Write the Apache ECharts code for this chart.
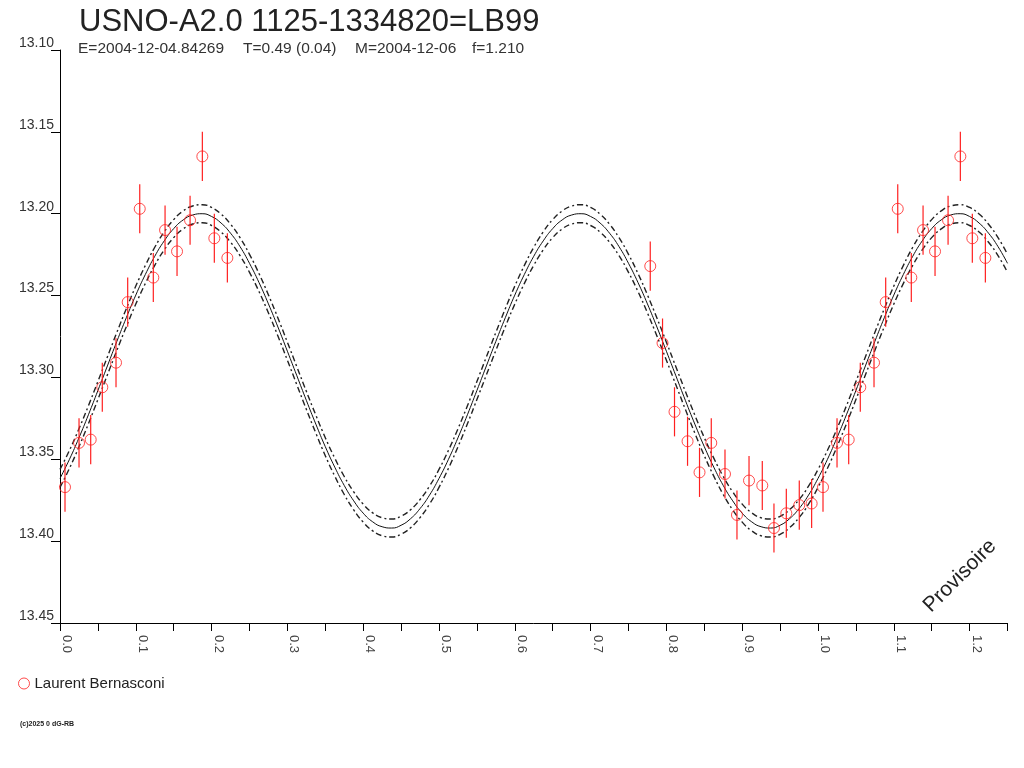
<!DOCTYPE html>
<html>
<head>
<meta charset="utf-8">
<script src="https://cdn.jsdelivr.net/npm/echarts@6/dist/echarts.min.js"></script>
<style>
  html, body { margin: 0; background: #fff; }
  #chart { width: 1024px; height: 768px; }
</style>
</head>
<body>
<div id="chart"></div>
<script>
var obsPhase = [0.0066, 0.0251, 0.0405, 0.0558, 0.0739, 0.0893, 0.1052, 0.1231, 0.1386, 0.1544,
  0.1716, 0.1878, 0.2036, 0.2208, 0.7787, 0.7949, 0.8107, 0.8279, 0.8437, 0.8592,
  0.8773, 0.8931, 0.9090, 0.9265, 0.9419, 0.9582, 0.9753, 0.9916];
var obsMag = [13.367, 13.340, 13.338, 13.306, 13.291, 13.254, 13.197, 13.239, 13.210, 13.223,
  13.204, 13.165, 13.215, 13.227, 13.232, 13.279, 13.321, 13.339, 13.358, 13.340,
  13.359, 13.384, 13.363, 13.366, 13.392, 13.383, 13.378, 13.377];
var obsErr = [0.015, 0.015, 0.015, 0.015, 0.015, 0.015, 0.015, 0.015, 0.015, 0.015,
  0.015, 0.015, 0.015, 0.015, 0.015, 0.015, 0.015, 0.015, 0.015, 0.015,
  0.015, 0.015, 0.015, 0.015, 0.015, 0.015, 0.015, 0.015];

// fitted curve over one cycle (0.5 in phase), sampled every 0.0125
var fitStep = 0.0125;
var fitMid = [13.3617, 13.3500, 13.3369, 13.3228, 13.3080, 13.2930, 13.2780, 13.2635, 13.2497, 13.2372,
  13.2260, 13.2166, 13.2091, 13.2038, 13.2008, 13.2000, 13.2017, 13.2057, 13.2119, 13.2201,
  13.2303, 13.2420, 13.2551, 13.2692, 13.2840, 13.2990, 13.3140, 13.3285, 13.3423, 13.3548,
  13.3660, 13.3754, 13.3829, 13.3882, 13.3912, 13.3920, 13.3903, 13.3863, 13.3801, 13.3719];
var fitHigh = [13.3562, 13.3445, 13.3314, 13.3173, 13.3025, 13.2875, 13.2725, 13.2580, 13.2442, 13.2317,
  13.2205, 13.2111, 13.2036, 13.1983, 13.1953, 13.1945, 13.1962, 13.2002, 13.2064, 13.2146,
  13.2248, 13.2365, 13.2496, 13.2637, 13.2785, 13.2935, 13.3085, 13.3230, 13.3368, 13.3493,
  13.3605, 13.3699, 13.3774, 13.3827, 13.3857, 13.3865, 13.3848, 13.3808, 13.3746, 13.3664];
var fitLow = [13.3672, 13.3555, 13.3424, 13.3283, 13.3135, 13.2985, 13.2835, 13.2690, 13.2552, 13.2427,
  13.2315, 13.2221, 13.2146, 13.2093, 13.2063, 13.2055, 13.2072, 13.2112, 13.2174, 13.2256,
  13.2358, 13.2475, 13.2606, 13.2747, 13.2895, 13.3045, 13.3195, 13.3340, 13.3478, 13.3603,
  13.3715, 13.3809, 13.3884, 13.3937, 13.3967, 13.3975, 13.3958, 13.3918, 13.3856, 13.3774];

var phaseMax = 1.25;
var observer = "Laurent Bernasconi";
var red = "#ff2020";
var font = "'Liberation Sans', Arial, sans-serif";

// points are repeated one cycle later while they stay inside the axis
var pts = [];
for (var i = 0; i < obsPhase.length; i++) {
  [0, 1].forEach(function (k) {
    var p = obsPhase[i] + k;
    if (p <= phaseMax) pts.push([p, obsMag[i], obsErr[i]]);
  });
}

// repeat the cycle samples across the whole phase axis
function curve(arr) {
  var out = [];
  for (var j = 0; j * fitStep <= phaseMax + 1e-9; j++) {
    out.push([+(j * fitStep).toFixed(4), arr[j % arr.length]]);
  }
  return out;
}

var chart = echarts.init(document.getElementById("chart"));

var subStyle = function (txt, x) {
  return {
    type: "text", x: x, y: 41,
    style: { text: txt, font: "15.5px " + font, fill: "#333" }
  };
};

var option = {
  backgroundColor: "#fff",
  animation: false,
  title: {
    text: "USNO-A2.0 1125-1334820=LB99",
    left: 74, top: 2,
    textStyle: { fontFamily: font, fontSize: 31, fontWeight: "normal", color: "#222" }
  },
  legend: {
    data: [observer],
    left: 18, top: 676, padding: 0,
    itemWidth: 11, itemHeight: 11, itemGap: 4,
    itemStyle: { color: "rgba(255,255,255,0)", borderColor: red, borderWidth: 1 },
    textStyle: { fontFamily: font, fontSize: 15, color: "#222" }
  },
  grid: { left: 60, right: 16.5, top: 50, bottom: 145, containLabel: false },
  xAxis: {
    type: "value",
    min: 0, max: phaseMax, interval: 0.05,
    splitLine: { show: false },
    axisLine: { lineStyle: { color: "#000", width: 1 } },
    axisTick: { length: 8, lineStyle: { color: "#000" } },
    axisLabel: {
      rotate: -90,
      margin: 12,
      verticalAlign: "bottom",
      fontFamily: font, fontSize: 13, color: "#444",
      formatter: function (v) {
        return Math.round(v * 100) % 10 === 0 ? v.toFixed(1) : "";
      }
    }
  },
  yAxis: {
    type: "value",
    inverse: true,
    min: 13.10, max: 13.45, interval: 0.05,
    splitLine: { show: false },
    axisLine: { show: true, lineStyle: { color: "#000", width: 1 } },
    axisTick: { show: true, length: 9, lineStyle: { color: "#000" } },
    axisLabel: {
      margin: 6,
      verticalAlign: "bottom",
      fontFamily: font, fontSize: 14, color: "#333",
      formatter: function (v) { return v.toFixed(2); }
    }
  },
  series: [
    {
      type: "line", data: curve(fitMid), smooth: true, symbol: "none",
      lineStyle: { color: "#111", width: 1 }, z: 2
    },
    {
      type: "line", data: curve(fitHigh), smooth: true, symbol: "none",
      lineStyle: { color: "#222", width: 1.4, type: [6, 3, 2, 3] }, z: 2
    },
    {
      type: "line", data: curve(fitLow), smooth: true, symbol: "none",
      lineStyle: { color: "#222", width: 1.4, type: [6, 3, 2, 3] }, z: 2
    },
    {
      type: "custom",
      data: pts,
      renderItem: function (params, api) {
        var top = api.coord([api.value(0), api.value(1) - api.value(2)]);
        var bot = api.coord([api.value(0), api.value(1) + api.value(2)]);
        return {
          type: "line",
          shape: { x1: top[0], y1: top[1], x2: bot[0], y2: bot[1] },
          style: { stroke: red, lineWidth: 1.2 }
        };
      },
      z: 3
    },
    {
      name: observer,
      type: "scatter",
      data: pts.map(function (p) { return [p[0], p[1]]; }),
      symbol: "circle",
      symbolSize: 11,
      itemStyle: { color: "rgba(255,255,255,0)", borderColor: red, borderWidth: 1 },
      z: 4
    }
  ],
  graphic: [
    subStyle("E=2004-12-04.84269", 78),
    subStyle("T=0.49 (0.04)", 243),
    subStyle("M=2004-12-06", 355),
    subStyle("f=1.210", 472),
    {
      type: "text",
      x: 960, y: 576,
      rotation: Math.PI / 4,
      style: {
        text: "Provisoire",
        font: "21px " + font,
        fill: "#222",
        textAlign: "center",
        textVerticalAlign: "middle"
      }
    },
    {
      type: "text",
      left: 20, top: 721,
      style: { text: "(c)2025 0 dG-RB", font: "bold 7px " + font, fill: "#222" }
    }
  ]
};

chart.setOption(option);
</script>
</body>
</html>
